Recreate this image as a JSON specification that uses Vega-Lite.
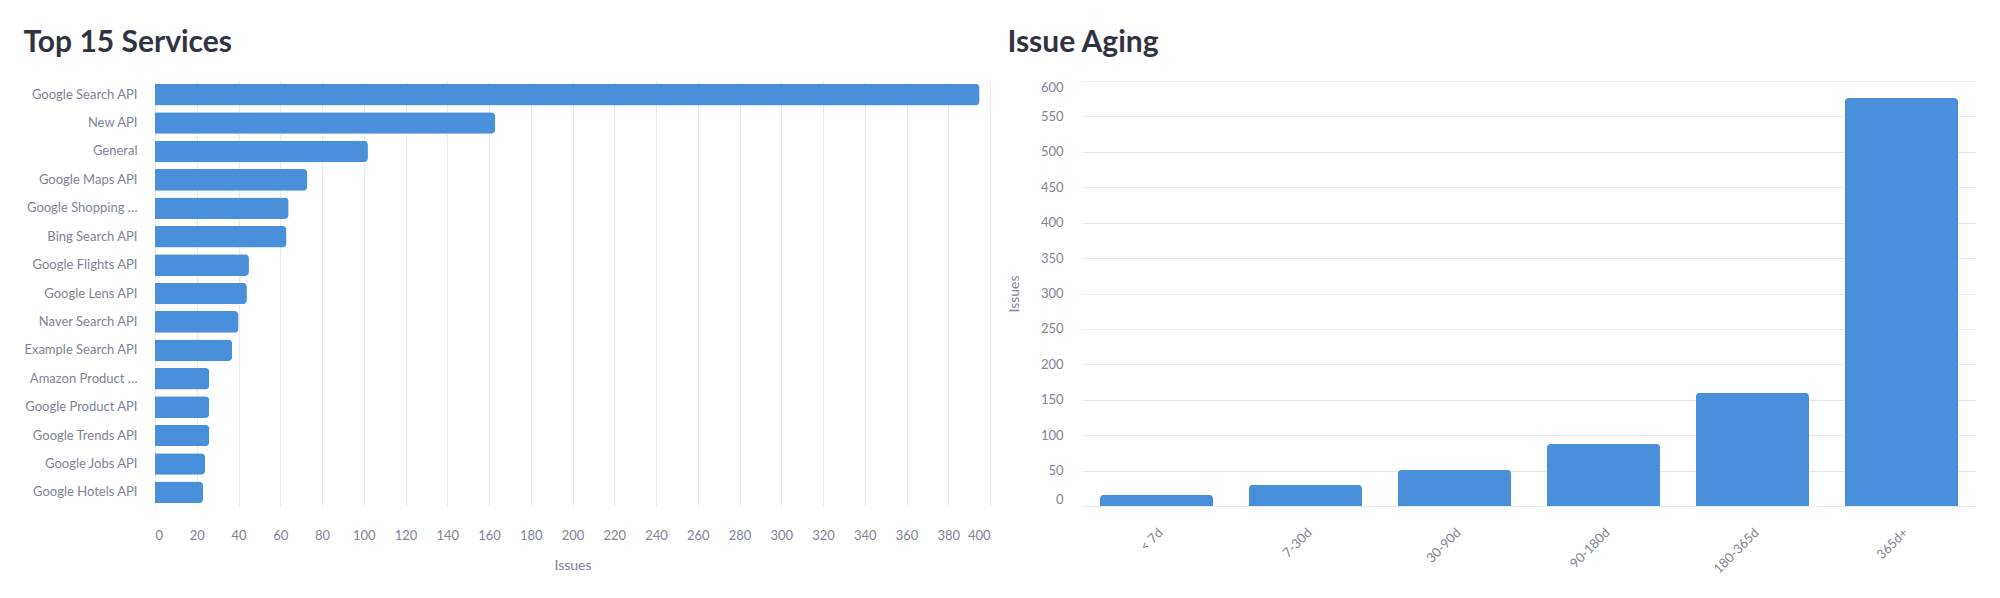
{
  "$schema": "https://vega.github.io/schema/vega-lite/v6.json",
  "padding": {"left": 23, "top": 28, "right": 5, "bottom": 5},
  "spacing": 17,
  "config": {
    "font": "Lato",
    "view": {"stroke": null},
    "title": {"anchor": "start", "fontSize": 30, "fontWeight": "bold", "color": "#31333F", "font": "Lato", "offset": 23},
    "axis": {
      "labelColor": "#808495",
      "titleColor": "#808495",
      "labelFontSize": 13,
      "titleFontSize": 14,
      "titleFontWeight": "normal",
      "gridColor": "#e6eaf1",
      "gridWidth": 1,
      "domain": false,
      "ticks": false,
      "labelPadding": 18
    },
    "bar": {"color": "#4a8fd9"}
  },
  "hconcat": [
    {
      "title": "Top 15 Services",
      "width": 835,
      "height": 425,
      "data": {"values": [
        {"service": "Google Search API", "issues": 395},
        {"service": "New API", "issues": 163},
        {"service": "General", "issues": 102},
        {"service": "Google Maps API", "issues": 73},
        {"service": "Google Shopping API", "issues": 64},
        {"service": "Bing Search API", "issues": 63},
        {"service": "Google Flights API", "issues": 45},
        {"service": "Google Lens API", "issues": 44},
        {"service": "Naver Search API", "issues": 40},
        {"service": "Example Search API", "issues": 37},
        {"service": "Amazon Product API", "issues": 26},
        {"service": "Google Product API", "issues": 26},
        {"service": "Google Trends API", "issues": 26},
        {"service": "Google Jobs API", "issues": 24},
        {"service": "Google Hotels API", "issues": 23}
      ]},
      "mark": {"type": "bar", "cornerRadiusEnd": 4},
      "encoding": {
        "y": {
          "field": "service", "type": "nominal", "sort": null, "title": null,
          "scale": {"paddingInner": 0.24, "paddingOuter": 0.1},
          "axis": {"labelLimit": 116, "grid": false}
        },
        "x": {
          "field": "issues", "type": "quantitative", "title": "Issues",
          "scale": {"domain": [0, 400]},
          "axis": {"grid": true, "values": [0,20,40,60,80,100,120,140,160,180,200,220,240,260,280,300,320,340,360,380,400], "labelFlush": true, "labelPadding": 23, "titlePadding": 16}
        }
      }
    },
    {
      "title": "Issue Aging",
      "width": 894,
      "height": 425,
      "data": {"values": [
        {"age": "< 7d", "issues": 16},
        {"age": "7-30d", "issues": 30},
        {"age": "30-90d", "issues": 51},
        {"age": "90-180d", "issues": 88},
        {"age": "180-365d", "issues": 160},
        {"age": "365d+", "issues": 576}
      ]},
      "mark": {"type": "bar", "cornerRadiusEnd": 4},
      "encoding": {
        "x": {
          "field": "age", "type": "nominal", "sort": null, "title": null,
          "scale": {"paddingInner": 0.24, "paddingOuter": 0.12},
          "axis": {"labelAngle": -45, "grid": false, "labelPadding": 20}
        },
        "y": {
          "field": "issues", "type": "quantitative", "title": "Issues",
          "scale": {"domain": [0, 600]},
          "axis": {"grid": true, "values": [0,50,100,150,200,250,300,350,400,450,500,550,600], "labelFlush": true, "labelPadding": 19, "titlePadding": 19}
        }
      }
    }
  ]
}
